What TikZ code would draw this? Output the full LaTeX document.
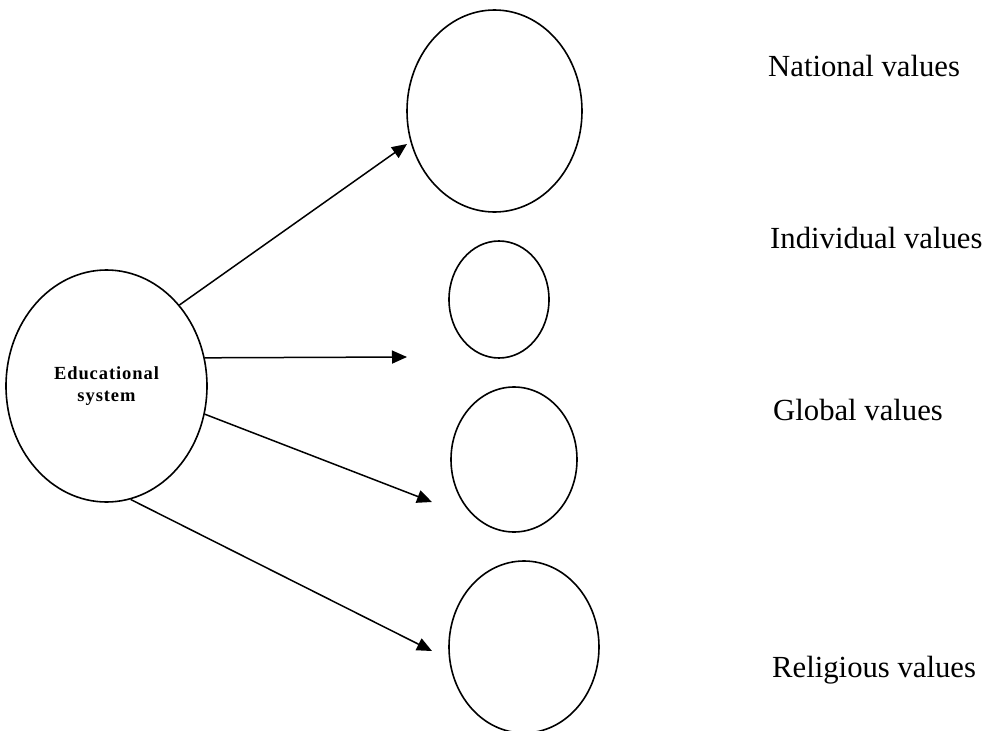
\documentclass[tikz,border=0pt]{standalone}
\usepackage{fontspec}
\setmainfont{Liberation Serif}
\usetikzlibrary{shapes.geometric,arrows.meta}
\tikzset{
  ring/.style={draw, ellipse, line width=1.6pt, inner sep=0pt},
  conn/.style={line width=1.5pt, -{Triangle[length=15pt,width=13pt]}},
  lab/.style={anchor=base west, inner sep=0pt, font=\fontsize{30.7}{36}\selectfont}
}
\begin{document}
\begin{tikzpicture}[x=1pt,y=-1pt]
\useasboundingbox (0,0) rectangle (989,731);
\node[ring, minimum width=201pt, minimum height=232pt, align=center,
      font=\fontsize{18.5}{22.5}\selectfont\bfseries\addfontfeature{LetterSpace=5}] (edu) at (106.5,386) {Educational\\system};
\node[ring, minimum width=175pt, minimum height=202pt] (nat) at (494.5,111) {};
\node[ring, minimum width=100pt, minimum height=117pt] (ind) at (499,299.5) {};
\node[ring, minimum width=126pt, minimum height=145pt] (glo) at (514,459.5) {};
\node[ring, minimum width=150pt, minimum height=172pt] (rel) at (524,647) {};
\coordinate (t1) at (407,144);
\coordinate (t2) at (407,357);
\coordinate (t3) at (432,502);
\coordinate (t4) at (432,651);
\draw[conn] (edu.48.7) -- (t1);
\draw[conn] (edu.16.1) -- (t2);
\draw[conn] (edu.-16.6) -- (t3);
\draw[conn] (edu.-78) -- (t4);
\node[lab] (lnat) at (768,76) {National values};
\node[lab] (lind) at (770,248) {Individual values};
\node[lab] (lglo) at (773,420) {Global values};
\node[lab] (lrel) at (772,677) {Religious values};
\end{tikzpicture}
\end{document}
